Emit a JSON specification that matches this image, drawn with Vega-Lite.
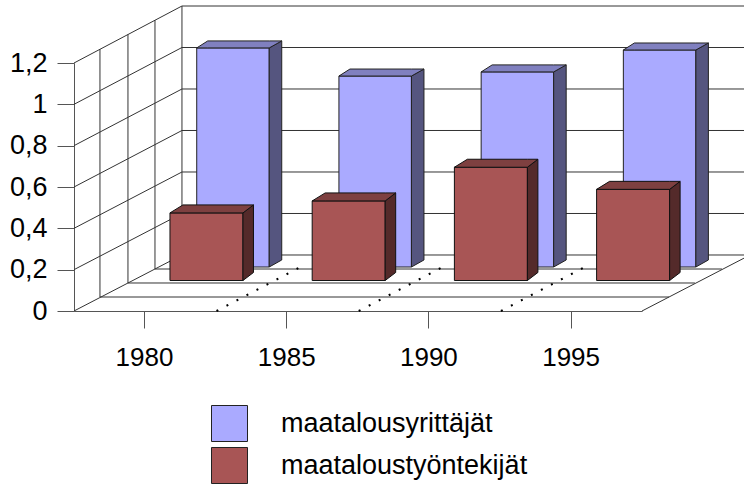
{
"$schema":"https://vega.github.io/schema/vega-lite/v6.json",
"width":568,"height":248,
"autosize":{"type":"none"},
"padding":{"left":74,"top":63,"right":102,"bottom":174},
"background":"white",
"config":{"view":{"stroke":null},"font":"Liberation Sans"},
"datasets":{
"bars":[
{"series":"maatalousyrittäjät","year":1980,"value":1.06},
{"series":"maatalousyrittäjät","year":1985,"value":0.924},
{"series":"maatalousyrittäjät","year":1990,"value":0.944},
{"series":"maatalousyrittäjät","year":1995,"value":1.05},
{"series":"maataloustyöntekijät","year":1980,"value":0.327},
{"series":"maataloustyöntekijät","year":1985,"value":0.385},
{"series":"maataloustyöntekijät","year":1990,"value":0.548},
{"series":"maataloustyöntekijät","year":1995,"value":0.441}
],
"sideBlue":[
{"year":1980,"x":1984.404,"y":1.2729,"y2":0.2129},{"year":1980,"x":1984.844,"y":1.3068,"y2":0.2468},
{"year":1985,"x":1989.404,"y":1.1369,"y2":0.2129},{"year":1985,"x":1989.844,"y":1.1708,"y2":0.2468},
{"year":1990,"x":1994.404,"y":1.1569,"y2":0.2129},{"year":1990,"x":1994.844,"y":1.1908,"y2":0.2468},
{"year":1995,"x":1999.404,"y":1.2629,"y2":0.2129},{"year":1995,"x":1999.844,"y":1.2968,"y2":0.2468}
],
"topBlue":[
{"year":1980,"x":1981.855,"y":1.2729,"y2":1.2729},{"year":1980,"x":1982.242,"y":1.3068,"y2":1.2729},{"year":1980,"x":1984.404,"y":1.3068,"y2":1.2729},{"year":1980,"x":1984.844,"y":1.3068,"y2":1.3068},
{"year":1985,"x":1986.855,"y":1.1369,"y2":1.1369},{"year":1985,"x":1987.242,"y":1.1708,"y2":1.1369},{"year":1985,"x":1989.404,"y":1.1708,"y2":1.1369},{"year":1985,"x":1989.844,"y":1.1708,"y2":1.1708},
{"year":1990,"x":1991.855,"y":1.1569,"y2":1.1569},{"year":1990,"x":1992.242,"y":1.1908,"y2":1.1569},{"year":1990,"x":1994.404,"y":1.1908,"y2":1.1569},{"year":1990,"x":1994.844,"y":1.1908,"y2":1.1908},
{"year":1995,"x":1996.855,"y":1.2629,"y2":1.2629},{"year":1995,"x":1997.242,"y":1.2968,"y2":1.2629},{"year":1995,"x":1999.404,"y":1.2968,"y2":1.2629},{"year":1995,"x":1999.844,"y":1.2968,"y2":1.2968}
],
"sideRed":[
{"year":1980,"x":1983.481,"y":0.4746,"y2":0.1476},{"year":1980,"x":1983.85,"y":0.5133,"y2":0.1863},
{"year":1985,"x":1988.481,"y":0.5326,"y2":0.1476},{"year":1985,"x":1988.85,"y":0.5713,"y2":0.1863},
{"year":1990,"x":1993.481,"y":0.6956,"y2":0.1476},{"year":1990,"x":1993.85,"y":0.7343,"y2":0.1863},
{"year":1995,"x":1998.481,"y":0.5886,"y2":0.1476},{"year":1995,"x":1998.85,"y":0.6273,"y2":0.1863}
],
"topRed":[
{"year":1980,"x":1980.914,"y":0.4746,"y2":0.4746},{"year":1980,"x":1981.371,"y":0.5133,"y2":0.4746},{"year":1980,"x":1983.481,"y":0.5133,"y2":0.4746},{"year":1980,"x":1983.85,"y":0.5133,"y2":0.5133},
{"year":1985,"x":1985.914,"y":0.5326,"y2":0.5326},{"year":1985,"x":1986.371,"y":0.5713,"y2":0.5326},{"year":1985,"x":1988.481,"y":0.5713,"y2":0.5326},{"year":1985,"x":1988.85,"y":0.5713,"y2":0.5713},
{"year":1990,"x":1990.914,"y":0.6956,"y2":0.6956},{"year":1990,"x":1991.371,"y":0.7343,"y2":0.6956},{"year":1990,"x":1993.481,"y":0.7343,"y2":0.6956},{"year":1990,"x":1993.85,"y":0.7343,"y2":0.7343},
{"year":1995,"x":1995.914,"y":0.5886,"y2":0.5886},{"year":1995,"x":1996.371,"y":0.6273,"y2":0.5886},{"year":1995,"x":1998.481,"y":0.6273,"y2":0.5886},{"year":1995,"x":1998.85,"y":0.6273,"y2":0.6273}
],
"walls":[
{"x":1981.336,"x2":2001.31,"y":0.271,"y2":0.271},
{"x":1981.336,"x2":2001.31,"y":0.4718,"y2":0.4718},
{"x":1981.336,"x2":2001.31,"y":0.6726,"y2":0.6726},
{"x":1981.336,"x2":2001.31,"y":0.8734,"y2":0.8734},
{"x":1981.336,"x2":2001.31,"y":1.0742,"y2":1.0742},
{"x":1981.336,"x2":2001.31,"y":1.275,"y2":1.275},
{"x":1981.336,"x2":2001.31,"y":1.4758,"y2":1.4758},
{"x":1977.54,"x2":1981.336,"y":0,"y2":0.271},
{"x":1977.54,"x2":1981.336,"y":0.2,"y2":0.4718},
{"x":1977.54,"x2":1981.336,"y":0.4,"y2":0.6726},
{"x":1977.54,"x2":1981.336,"y":0.6,"y2":0.8734},
{"x":1977.54,"x2":1981.336,"y":0.8,"y2":1.0742},
{"x":1977.54,"x2":1981.336,"y":1.0,"y2":1.275},
{"x":1977.54,"x2":1981.336,"y":1.2,"y2":1.4758},
{"x":1978.453,"x2":1978.453,"y":0.0677,"y2":1.2665},
{"x":1979.437,"x2":1979.437,"y":0.1355,"y2":1.3379},
{"x":1980.387,"x2":1980.387,"y":0.2032,"y2":1.4068},
{"x":1981.336,"x2":1981.336,"y":0.271,"y2":1.4758},
{"x":1978.453,"x2":1998.46,"y":0.0677,"y2":0.0677},
{"x":1979.437,"x2":1999.37,"y":0.1355,"y2":0.1355},
{"x":1980.387,"x2":2000.32,"y":0.2032,"y2":0.2032},
{"x":1997.51,"x2":2001.31,"y":0,"y2":0.271}
],
"dots":[
{"x":1982.55,"x2":1985.7,"y":0,"y2":0.2274},
{"x":1987.55,"x2":1990.7,"y":0,"y2":0.2274},
{"x":1992.55,"x2":1995.7,"y":0,"y2":0.2274}
]
},
"encoding":{
"x":{"field":"x","type":"quantitative","scale":{"domain":[1977.54,1997.51],"nice":false,"zero":false,"padding":0},
"axis":{"values":[1980,1985,1990,1995],"format":"d","title":null,"grid":false,"tickSize":17,"labelPadding":16,"labelFontSize":26,"labelColor":"#000","tickColor":"#555","domainColor":"#555","labelFont":"Liberation Sans"}},
"y":{"field":"y","type":"quantitative","stack":null,"scale":{"domain":[0,1.2],"nice":false,"zero":false},
"axis":{"values":[0,0.2,0.4,0.6,0.8,1,1.2],"labelExpr":"replace(''+datum.value,'.',',')","title":null,"grid":false,"tickSize":17,"labelPadding":10,"labelFontSize":27,"labelColor":"#000","tickColor":"#555","domainColor":"#555","labelFont":"Liberation Sans"}}
},
"layer":[
{"data":{"name":"walls"},"mark":{"type":"rule","stroke":"#333","strokeWidth":1},"encoding":{"x2":{"field":"x2"},"y2":{"field":"y2"}}},
{"data":{"name":"dots"},"mark":{"type":"rule","stroke":"#000","strokeWidth":2,"strokeDash":[2,9.3]},"encoding":{"x2":{"field":"x2"},"y2":{"field":"y2"}}},
{"data":{"name":"bars"},"transform":[{"filter":"datum.series==='maatalousyrittäjät'"}],
 "mark":{"type":"bar","orient":"vertical","size":72.5,"xOffset":89,"yOffset":-44,"y2Offset":-44,"stroke":"#222","strokeWidth":1},
 "encoding":{"x":{"field":"year","type":"quantitative","scale":{"domain":[1977.54,1997.51],"nice":false,"zero":false,"padding":0},
 "axis":{"values":[1980,1985,1990,1995],"format":"d","title":null,"grid":false,"tickSize":17,"labelPadding":16,"labelFontSize":26,"labelColor":"#000","tickColor":"#555","domainColor":"#555","labelFont":"Liberation Sans"}},
 "y":{"field":"value","type":"quantitative","stack":null,"scale":{"domain":[0,1.2],"nice":false,"zero":false},
 "axis":{"values":[0,0.2,0.4,0.6,0.8,1,1.2],"labelExpr":"replace(''+datum.value,'.',',')","title":null,"grid":false,"tickSize":17,"labelPadding":10,"labelFontSize":27,"labelColor":"#000","tickColor":"#555","domainColor":"#555","labelFont":"Liberation Sans"}},
 "y2":{"datum":0},
 "color":{"field":"series","type":"nominal","scale":{"domain":["maatalousyrittäjät","maataloustyöntekijät"],"range":["#AAAAFF","#A85555"]},
 "legend":{"title":null,"orient":"none","legendX":137,"legendY":342,"symbolType":"square","symbolSize":1296,"symbolStrokeColor":"#222","symbolStrokeWidth":1,"symbolOpacity":1,"labelFontSize":27,"labelFont":"Liberation Sans","labelColor":"#000","labelOffset":33,"labelLimit":400,"rowPadding":1}}}},
{"data":{"name":"sideBlue"},"mark":{"type":"area","fill":"#55557F","stroke":"#222","strokeWidth":1},"encoding":{"y2":{"field":"y2"},"detail":{"field":"year"}}},
{"data":{"name":"topBlue"},"mark":{"type":"area","fill":"#8080BF","stroke":"#222","strokeWidth":1},"encoding":{"y2":{"field":"y2"},"detail":{"field":"year"}}},
{"data":{"name":"bars"},"transform":[{"filter":"datum.series==='maataloustyöntekijät'"}],
 "mark":{"type":"bar","orient":"vertical","size":73,"xOffset":62.5,"yOffset":-30.5,"y2Offset":-30.5,"stroke":"#111","strokeWidth":1},
 "encoding":{"x":{"field":"year","type":"quantitative","scale":{"domain":[1977.54,1997.51],"nice":false,"zero":false,"padding":0},
 "axis":{"values":[1980,1985,1990,1995],"format":"d","title":null,"grid":false,"tickSize":17,"labelPadding":16,"labelFontSize":26,"labelColor":"#000","tickColor":"#555","domainColor":"#555","labelFont":"Liberation Sans"}},
 "y":{"field":"value","type":"quantitative","stack":null,"scale":{"domain":[0,1.2],"nice":false,"zero":false},
 "axis":{"values":[0,0.2,0.4,0.6,0.8,1,1.2],"labelExpr":"replace(''+datum.value,'.',',')","title":null,"grid":false,"tickSize":17,"labelPadding":10,"labelFontSize":27,"labelColor":"#000","tickColor":"#555","domainColor":"#555","labelFont":"Liberation Sans"}},
 "y2":{"datum":0},
 "color":{"field":"series","type":"nominal","scale":{"domain":["maatalousyrittäjät","maataloustyöntekijät"],"range":["#AAAAFF","#A85555"]},"legend":null}}},
{"data":{"name":"sideRed"},"mark":{"type":"area","fill":"#542A2A","stroke":"#111","strokeWidth":1},"encoding":{"y2":{"field":"y2"},"detail":{"field":"year"}}},
{"data":{"name":"topRed"},"mark":{"type":"area","fill":"#7E4040","stroke":"#111","strokeWidth":1},"encoding":{"y2":{"field":"y2"},"detail":{"field":"year"}}}
]
}
